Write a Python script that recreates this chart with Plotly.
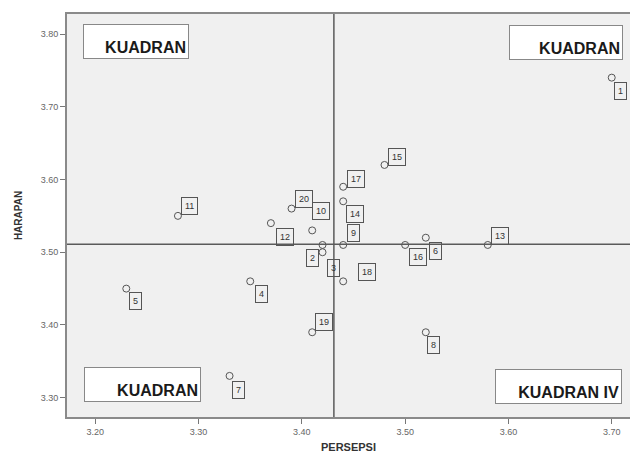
import plotly.graph_objects as go

# ---- data ----
point_ids = [str(i) for i in range(1, 21)]
persepsi = [3.70, 3.42, 3.42, 3.35, 3.23, 3.52, 3.33, 3.52, 3.44, 3.41,
            3.28, 3.37, 3.58, 3.44, 3.48, 3.50, 3.44, 3.44, 3.41, 3.39]
harapan = [3.74, 3.51, 3.50, 3.46, 3.45, 3.52, 3.33, 3.39, 3.51, 3.53,
           3.55, 3.54, 3.51, 3.57, 3.62, 3.51, 3.59, 3.46, 3.39, 3.56]
mean_persepsi = 3.431
mean_harapan = 3.511
x_ticks = [3.20, 3.30, 3.40, 3.50, 3.60, 3.70]
y_ticks = [3.30, 3.40, 3.50, 3.60, 3.70, 3.80]
quadrant_texts = ["KUADRAN", "KUADRAN", "KUADRAN", "KUADRAN IV"]

# label offsets in pixels (style only)
label_dx = [9, -10, 11, 11, 9, 10, 9, 8, 10, 9, 12, 14, 12, 12, 13, 13, 13, 24, 12, 12]
label_dy = [13, 13, 16, 13, 12, 13, 14, 13, -12, -19, -10, 14, -9, 13, -8, 12, -8, -9, -10, -10]

fig = go.Figure()
fig.add_trace(go.Scatter(
    x=persepsi, y=harapan, mode="markers",
    marker=dict(symbol="circle-open", size=7, color="#555555", line=dict(width=1, color="#555555")),
    hoverinfo="skip", showlegend=False))

annotations = []
for pid, xv, yv, dx, dy in zip(point_ids, persepsi, harapan, label_dx, label_dy):
    annotations.append(dict(
        x=xv, y=yv, xref="x", yref="y", text=pid, showarrow=False,
        xshift=dx, yshift=-dy,
        font=dict(family="Liberation Sans, Arial", size=9, color="#333333"),
        bordercolor="#555555", borderwidth=1, borderpad=3, bgcolor="rgba(0,0,0,0)"))

quad_pos = [(0.1234, 0.932, 100), (0.886, 0.930, 108), (0.134, 0.081, 111), (0.873, 0.0757, 121)]
for txt, (px, py, w) in zip(quadrant_texts, quad_pos):
    annotations.append(dict(
        x=px, y=py, xref="paper", yref="paper", text="<b>" + txt + "</b>", showarrow=False,
        width=w, height=29, align="right", valign="bottom",
        font=dict(family="Liberation Sans, Arial", size=16, color="#1a1a1a"),
        bordercolor="#888888", borderwidth=1, borderpad=2, bgcolor="#ffffff",
        xanchor="center", yanchor="middle"))

fig.add_shape(type="line", x0=mean_persepsi, x1=mean_persepsi, y0=0, y1=1,
              xref="x", yref="paper", line=dict(color="#5a5a5a", width=1.5), layer="above")
fig.add_shape(type="line", x0=0, x1=1, y0=mean_harapan, y1=mean_harapan,
              xref="paper", yref="y", line=dict(color="#5a5a5a", width=1.5), layer="above")

fig.update_layout(
    width=630, height=458,
    margin=dict(l=67, r=0, t=14, b=41, autoexpand=False),
    paper_bgcolor="#ffffff", plot_bgcolor="#f0f0f0",
    annotations=annotations,
    font=dict(family="Liberation Sans, Arial", color="#555555"),
    xaxis=dict(range=[3.1726, 3.7177], tickvals=x_ticks, ticktext=[f"{v:.2f}" for v in x_ticks],
               showgrid=False, zeroline=False, showline=True, linecolor="#8a8a8a", linewidth=2,
               mirror=True, ticks="outside", ticklen=5, tickcolor="#777777",
               tickfont=dict(size=9, color="#666666"),
               title=dict(text="<b>PERSEPSI</b>", font=dict(size=11, color="#333333"), standoff=8)),
    yaxis=dict(range=[3.2735, 3.8275], tickvals=y_ticks, ticktext=[f"{v:.2f}" for v in y_ticks],
               showgrid=False, zeroline=False, showline=True, linecolor="#8a8a8a", linewidth=2,
               ticks="outside", ticklen=5, tickcolor="#777777",
               tickfont=dict(size=9, color="#666666"),
               title=dict(text="<b>HARAPAN</b>", font=dict(size=10, color="#333333"), standoff=16)),
)

fig.write_html("out.html", config={"displayModeBar": False},
               post_script="document.body.style.margin='0';document.body.style.overflow='hidden';")
